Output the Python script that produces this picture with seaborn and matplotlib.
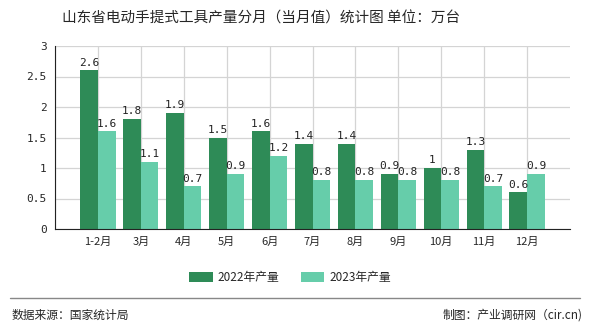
import matplotlib
matplotlib.use("Agg")
import matplotlib.pyplot as plt
import seaborn as sns
import pandas as pd
import numpy as np

categories = ["1-2月", "3月", "4月", "5月", "6月", "7月", "8月", "9月", "10月", "11月", "12月"]
values_2022 = [2.6, 1.8, 1.9, 1.5, 1.6, 1.4, 1.4, 0.9, 1.0, 1.3, 0.6]
values_2023 = [1.6, 1.1, 0.7, 0.9, 1.2, 0.8, 0.8, 0.8, 0.8, 0.7, 0.9]
labels_2022 = ["2.6", "1.8", "1.9", "1.5", "1.6", "1.4", "1.4", "0.9", "1", "1.3", "0.6"]
labels_2023 = ["1.6", "1.1", "0.7", "0.9", "1.2", "0.8", "0.8", "0.8", "0.8", "0.7", "0.9"]
series_names = ["2022年产量", "2023年产量"]
yticks = [0, 0.5, 1, 1.5, 2, 2.5, 3]
ytick_labels = ["0", "0.5", "1", "1.5", "2", "2.5", "3"]

sns.set_style("white")
plt.rcParams['font.family'] = ['Noto Sans CJK SC', 'DejaVu Sans']

df = pd.DataFrame({
    "month": categories * 2,
    "value": values_2022 + values_2023,
    "series": [series_names[0]] * len(categories) + [series_names[1]] * len(categories),
})

fig = plt.figure(figsize=(5.9, 3.3), dpi=100)
ax = fig.add_axes([55/590, 101/330, 515/590, 183/330])

colors = ["#2E8B57", "#66CDAA"]
sns.barplot(data=df, x="month", y="value", hue="series", palette=colors,
            width=0.82, saturation=1, ax=ax, legend=True, linewidth=0, edgecolor="none")

# value labels
for cont, labs in zip(ax.containers, [labels_2022, labels_2023]):
    ax.bar_label(cont, labels=labs, padding=2, fontsize=8,
                 family=['DejaVu Sans Mono'], color="#222222")

ax.set_xlim(-1, 11)
ax.set_ylim(0, 3)
ax.set_yticks(yticks)
ax.set_yticklabels(ytick_labels, fontsize=8, family=['DejaVu Sans Mono'])
ax.set_xticks(range(-1, len(categories)))
ax.set_xticklabels([""] + categories, fontsize=8)
ax.set_xlabel("")
ax.set_ylabel("")
ax.grid(True, color="#d4d4d4", linewidth=0.9)
ax.set_axisbelow(True)
for s in ["top", "right"]:
    ax.spines[s].set_visible(False)
ax.spines["left"].set_color("#222222")
ax.spines["bottom"].set_color("#222222")
ax.tick_params(axis="both", length=4, color="#222222", width=0.8, pad=2)

leg = ax.legend(loc="upper center", bbox_to_anchor=(235/515, -0.17), ncol=2, frameon=False,
                fontsize=8.5, handlelength=2.0, handleheight=0.9, handletextpad=0.4,
                columnspacing=1.8)

fig.text(261/590, 0.945, "山东省电动手提式工具产量分月（当月值）统计图 单位：万台",
         ha="center", va="center", fontsize=10.5)
fig.add_artist(plt.Line2D([10/590, 580/590], [1 - 298/330, 1 - 298/330],
                          color="#888888", linewidth=1))
fig.text(12/590, 1 - 315/330, "数据来源：国家统计局", ha="left", va="center", fontsize=8.5)
fig.text(583/590, 1 - 315/330, "制图：产业调研网（cir.cn)", ha="right", va="center", fontsize=8.5)

fig.savefig("out.png", dpi=100)
